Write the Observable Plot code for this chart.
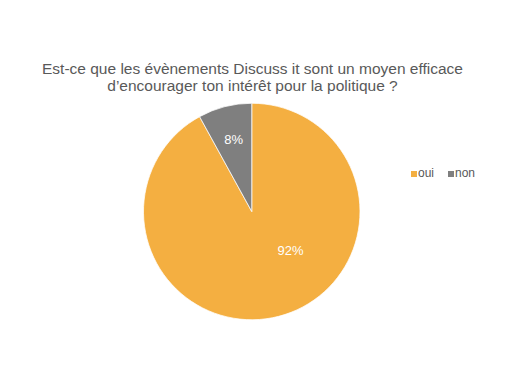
<!DOCTYPE html>
<html><head><meta charset="utf-8">
<script src="https://cdn.jsdelivr.net/npm/d3@7"></script>
<script src="https://cdn.jsdelivr.net/npm/@observablehq/plot@0.6"></script>
<style>
body{margin:0;background:#fff;font-family:"Liberation Sans",Arial,sans-serif}
#wrap{position:relative;width:510px;height:373px;overflow:hidden}
#title{position:absolute;left:0;width:505px;top:60px;text-align:center;font-size:15.5px;line-height:17px;color:#595959}
#legend{position:absolute;left:411px;top:166px;font-size:12px;line-height:14px;color:#595959;display:flex;align-items:center}
#legend .item{display:flex;align-items:center;margin-right:14px}
#legend .sw{width:6px;height:6px;margin-right:1px;margin-top:2px}
#chart{position:absolute;left:0;top:0}
</style></head>
<body>
<div id="wrap">
  <div id="chart"></div>
  <div id="title">Est-ce que les évènements Discuss it sont un moyen efficace<br>d’encourager ton intérêt pour la politique ?</div>
  <div id="legend"></div>
</div>
<script>
const categories = ["oui", "non"];
const values = [92, 8];
const labels = ["92%", "8%"];
const colors = ["#F4AF41", "#7F7F7F"];

const data = categories.map((c, i) => ({category: c, value: values[i], label: labels[i], color: colors[i]}));
const arcs = d3.pie().sort(null).value(d => d.value)(data);

// label placement (Excel "best fit" style)
const labelPos = arcs.map((a, i) => {
  const mid = (a.startAngle + a.endAngle) / 2;
  const big = a.endAngle - a.startAngle > Math.PI;
  const ang = big ? Math.PI * 0.75 : mid;
  const rf = big ? 0.5 : 0.69;
  return {x: rf * Math.sin(ang), y: rf * Math.cos(ang), label: a.data.label};
});

const pieMark = (index, scales) => {
  const cx = scales.x(0), cy = scales.y(0);
  const r = scales.x(1) - scales.x(0);
  const g = d3.create("svg:g").attr("transform", `translate(${cx},${cy})`);
  const arc = d3.arc().innerRadius(0).outerRadius(r);
  g.selectAll("path").data(arcs).join("path")
    .attr("d", arc)
    .attr("fill", d => d.data.color)
    .attr("stroke", "#fff")
    .attr("stroke-width", 0.75);
  return g.node();
};

const plot = Plot.plot({
  width: 510,
  height: 373,
  margin: 0,
  x: {domain: [-1, 1], range: [143.5, 360], axis: null},
  y: {domain: [-1, 1], range: [320, 103], axis: null},
  style: {fontFamily: "'Liberation Sans', Arial, sans-serif", background: "#fff"},
  marks: [
    pieMark,
    Plot.text(labelPos, {x: "x", y: "y", text: "label", fill: "#fff", fontSize: 13})
  ]
});
document.getElementById("chart").appendChild(plot);

const legend = d3.select("#legend");
data.forEach(d => {
  const it = legend.append("div").attr("class", "item");
  it.append("div").attr("class", "sw").style("background", d.color);
  it.append("span").text(d.category);
});
</script>
</body></html>
